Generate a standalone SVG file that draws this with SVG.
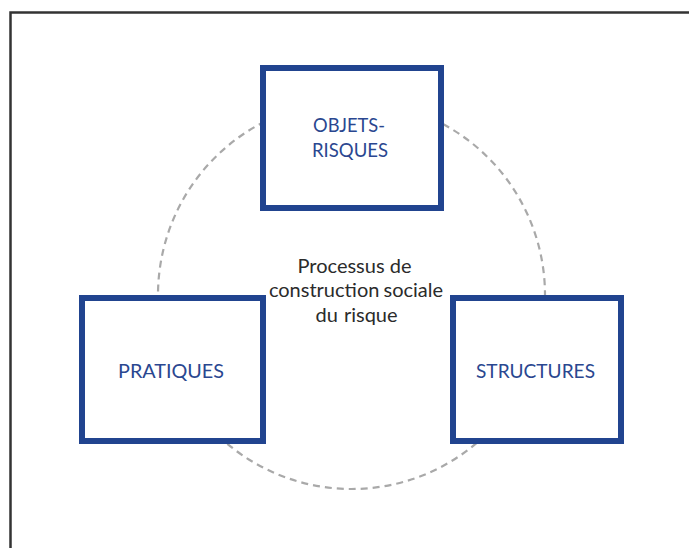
<svg xmlns="http://www.w3.org/2000/svg" width="689" height="548" viewBox="0 0 689 548">
<style>
.frame{fill:none;stroke:#333;stroke-width:2.5}
.box{fill:#fff;stroke:#21448f;stroke-width:6}
.lbl{font-family:Lato,"Open Sans","Liberation Sans",sans-serif;font-size:19px;fill:#2a4790;text-anchor:middle}
.ctr{font-family:Lato,"Open Sans","Liberation Sans",sans-serif;font-size:20px;fill:#2b2b2b;text-anchor:middle}
.cyc{fill:none;stroke:#a9a9a9;stroke-width:2.2;stroke-dasharray:7 5}
</style>
<rect width="689" height="548" fill="#fff"/>
<path class="frame" d="M10.5,550 V12.5 H692"/>
<g id="connectors">
<ellipse class="cyc" cx="351.5" cy="295" rx="193.5" ry="194"/>
</g>
<g id="center-label">
<text class="ctr" x="354.5" y="273">Processus de</text>
<text class="ctr" x="356" y="297" word-spacing="-1">construction sociale</text>
<text class="ctr" x="356.5" y="322" word-spacing="1">du risque</text>
</g>
<g id="objets-risques">
<rect class="box" x="263" y="68" width="178" height="140"/>
<text class="lbl" x="349" y="132" textLength="72" lengthAdjust="spacingAndGlyphs">OBJETS-</text>
<text class="lbl" x="350" y="157" textLength="76" lengthAdjust="spacingAndGlyphs">RISQUES</text>
</g>
<g id="pratiques">
<rect class="box" x="82" y="298" width="181" height="143"/>
<text class="lbl" x="171" y="377.5" textLength="106" lengthAdjust="spacingAndGlyphs">PRATIQUES</text>
</g>
<g id="structures">
<rect class="box" x="453" y="298" width="168" height="143"/>
<text class="lbl" x="535.5" y="377.5" textLength="119" lengthAdjust="spacingAndGlyphs">STRUCTURES</text>
</g>
</svg>
